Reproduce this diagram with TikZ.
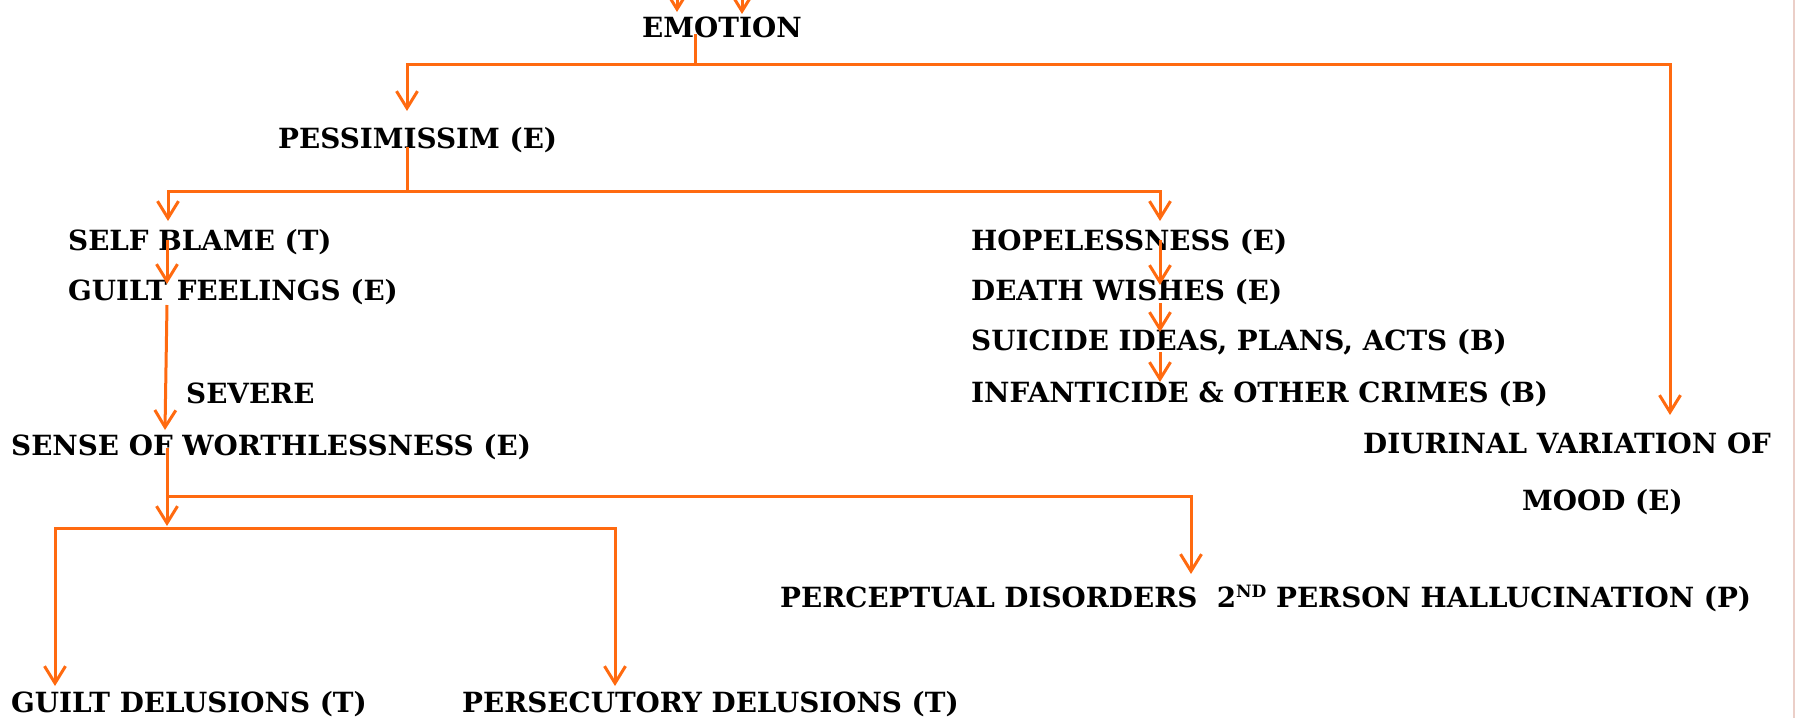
\documentclass[tikz,border=0pt]{standalone}
\usepackage{fontspec}
\setmainfont{DejaVu Serif}
\usetikzlibrary{arrows.meta}
\definecolor{org}{HTML}{FF6A10}
\definecolor{edge}{HTML}{EBCFC8}
\begin{document}
\begin{tikzpicture}[x=1pt,y=-1pt,
  lbl/.style={font=\bfseries\fontsize{27.8}{32}\selectfont, inner sep=0pt, anchor=base west},
  conn/.style={draw=org, line width=3pt},
  arr/.style={conn, -{Straight Barb[length=17pt,width=21pt]}}]
\useasboundingbox (0,0) rectangle (1796,718);
\draw[edge, line width=2pt] (1794,0) -- (1794,718);
% texts
\node[lbl] (emo) at (642,37) {EMOTION};
\node[lbl] (pess) at (278,148) {PESSIMISSIM (E)};
\node[lbl] (self) at (68,250) {SELF BLAME (T)};
\node[lbl] (guilt) at (68,300) {GUILT FEELINGS (E)};
\node[lbl] (sev) at (186,403) {SEVERE};
\node[lbl] (sense) at (11,455) {SENSE OF WORTHLESSNESS (E)};
\node[lbl] (hope) at (971,250) {HOPELESSNESS (E)};
\node[lbl] (death) at (971,300) {DEATH WISHES (E)};
\node[lbl] (suic) at (971,350) {SUICIDE IDEAS, PLANS, ACTS (B)};
\node[lbl] (infa) at (971,402) {INFANTICIDE \& OTHER CRIMES (B)};
\node[lbl] (diur) at (1363,453) {DIURINAL VARIATION OF};
\node[lbl] (mood) at (1522,510) {MOOD (E)};
\node[lbl] (perc) at (780,607) {PERCEPTUAL DISORDERS\ \ 2\raisebox{0.33em}{\fontsize{17}{17}\selectfont ND} PERSON HALLUCINATION (P)};
\node[lbl] (gdel) at (11,712) {GUILT DELUSIONS (T)};
\node[lbl] (pdel) at (462,712) {PERSECUTORY DELUSIONS (T)};
% coordinates
\coordinate (in1) at (677,-20); \coordinate (in1t) at (677,12);
\coordinate (in2) at (742,-20); \coordinate (in2t) at (742,14);
\coordinate (e0) at (695,34); \coordinate (e1) at (695,64);
\coordinate (pt) at (407,111); \coordinate (dt) at (1670,415);
\coordinate (p0) at (407,147); \coordinate (p1) at (407,191);
\coordinate (st) at (168,221); \coordinate (ht) at (1160,221);
\coordinate (s0) at (167,240); \coordinate (gt) at (167,284);
\coordinate (g0) at (167,305); \coordinate (wt) at (165,430);
\coordinate (w0) at (167,448); \coordinate (w1) at (167,496); \coordinate (wt2) at (167,526);
\coordinate (pct) at (1191,574);
\coordinate (b1) at (167,528);
\coordinate (gdt) at (55,686); \coordinate (pdt) at (615,686);
\coordinate (h0) at (1160,240); \coordinate (dwt) at (1160,285);
\coordinate (d0) at (1160,303); \coordinate (sut) at (1160,332);
\coordinate (u0) at (1160,352); \coordinate (it) at (1160,382);
% connectors
\draw[arr] (in1) -- (in1t);
\draw[arr] (in2) -- (in2t);
\draw[arr] (e0) -- (e1) -| (pt);
\draw[arr] (e1) -| (dt);
\draw[arr] (p0) -- (p1) -| (st);
\draw[arr] (p1) -| (ht);
\draw[arr] (s0) -- (gt);
\draw[arr] (g0) -- (wt);
\draw[arr] (w0) -- (wt2);
\draw[arr] (w1) -| (pct);
\draw[arr] (b1) -| (gdt);
\draw[arr] (b1) -| (pdt);
\draw[arr] (h0) -- (dwt);
\draw[arr] (d0) -- (sut);
\draw[arr] (u0) -- (it);
\end{tikzpicture}
\end{document}
